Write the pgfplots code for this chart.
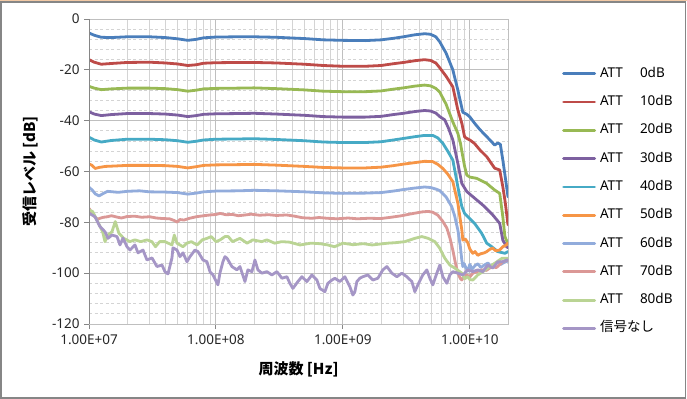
\documentclass[border=0pt]{standalone}
\usepackage{pgfplots}
\pgfplotsset{compat=1.18}
\usepackage{fontspec}
\setmainfont{Noto Sans}
\newfontfamily\jp{Noto Sans CJK JP}
\definecolor{cA}{HTML}{4A7EBB}
\definecolor{cB}{HTML}{BE4B48}
\definecolor{cC}{HTML}{98B954}
\definecolor{cD}{HTML}{7D60A0}
\definecolor{cE}{HTML}{46AAC5}
\definecolor{cF}{HTML}{F69546}
\definecolor{cG}{HTML}{92ACDC}
\definecolor{cH}{HTML}{DB9896}
\definecolor{cI}{HTML}{BAD494}
\definecolor{cJ}{HTML}{A596C6}
\definecolor{gmajor}{HTML}{BFBFBF}
\definecolor{gminor}{HTML}{D4D4D4}
\definecolor{gaxis}{HTML}{868686}
\definecolor{peach}{HTML}{F2C9A5}
\newcommand{\att}[1]{\makebox[40bp][l]{ATT}#1}
\begin{document}
\begin{tikzpicture}
\useasboundingbox (0bp,0bp) rectangle (687bp,399bp);
\fill[white] (0bp,0bp) rectangle (687bp,399bp);
\draw[gaxis, line width=1.3bp] (1bp,1bp) rectangle (685.5bp,397bp);
\draw[peach, line width=1.2bp] (0bp,398.4bp) -- (687bp,398.4bp);
\begin{axis}[
  at={(89bp,75bp)}, anchor=south west,
  scale only axis, width=419bp, height=305bp,
  xmode=log, xmin=1e7, xmax=2e10, ymin=-120, ymax=0,
  xtick={1e7,1e8,1e9,1e10},
  xticklabels={1.00E+07,1.00E+08,1.00E+09,1.00E+10},
  ytick={-120,-100,-80,-60,-40,-20,0},
  yticklabels={-120,-100,-80,-60,-40,-20,0},
  minor y tick num=4,
  grid=both,
  major grid style={draw=gmajor, line width=0.9bp},
  minor x grid style={draw=gminor, line width=0.9bp},
  minor y grid style={draw=gminor, line width=0.9bp, dash pattern=on 3bp off 2.5bp},
  axis line style={draw=gmajor, line width=0.9bp},
  tick align=outside, xtick pos=bottom, ytick pos=left,
  major tick length=5bp, minor tick length=0pt,
  tick style={draw=gaxis, line width=0.9bp},
  tick label style={font=\fontsize{13.5bp}{16bp}\selectfont, text=black!85},
  xticklabel style={yshift=-2bp},
  yticklabel style={xshift=-1bp},
  xlabel={周波数 [Hz]}, ylabel={受信レベル [dB]},
  label style={font=\jp\bfseries\fontsize{15bp}{18bp}\selectfont},
  xlabel style={at={(axis description cs:0.5,-0.1475)}, anchor=center},
  ylabel style={at={(axis description cs:-0.1396,0.5)}, anchor=center},
  legend style={at={(axis description cs:1.1289,0.8407)}, anchor=north west,
    draw=none, fill=none, inner sep=0pt, row sep=16.3bp, column sep=4bp,
    font=\fontsize{13.5bp}{16bp}\selectfont,
    nodes={inner sep=0pt, text height=9.5bp, text depth=2.5bp}},
  legend cell align=left,
  legend image code/.code={\draw[#1] (0bp,0bp) -- (31bp,0bp);},
  every axis plot/.append style={line width=2.8bp, line join=round, line cap=round, mark=none},
  clip=true,
]
\addplot[cA] coordinates {(1e7,-5.5) (1.1e7,-6.4) (1.25e7,-7.2) (1.5e7,-7.3) (2e7,-7.0) (3e7,-7.0) (4e7,-7.3) (5e7,-7.8) (6e7,-8.4) (7e7,-8.0) (8e7,-7.4) (1e8,-7.1) (1.5e8,-7.0) (2e8,-7.0) (3e8,-7.2) (5e8,-7.7) (7e8,-8.2) (1e9,-8.4) (1.5e9,-8.5) (2e9,-8.2) (2.5e9,-7.6) (3e9,-7.0) (3.7e9,-6.2) (4.4e9,-5.8) (4.9e9,-6.0) (5.4e9,-7.0) (5.8e9,-9.0) (6.5e9,-13.4) (7.35e9,-20.0) (8.05e9,-28) (8.81e9,-36.7) (9.47e9,-37.5) (1e10,-38.5) (1.09e10,-41) (1.2e10,-43.5) (1.36e10,-46.3) (1.57e10,-49.6) (1.66e10,-48.8) (1.74e10,-49.3) (1.82e10,-55.5) (1.9e10,-62) (2e10,-70)};
\addlegendentry{\att{0dB}}
\addplot[cB] coordinates {(1e7,-16.0) (1.1e7,-17.0) (1.25e7,-17.8) (1.5e7,-17.5) (2e7,-17.1) (3e7,-17.0) (4e7,-17.3) (5e7,-17.7) (6e7,-18.3) (7e7,-18.0) (8e7,-17.4) (1e8,-17.2) (1.5e8,-17.1) (2e8,-17.1) (3e8,-17.3) (5e8,-17.8) (7e8,-18.3) (1e9,-18.6) (1.5e9,-18.6) (2e9,-18.3) (2.5e9,-17.6) (3e9,-17.1) (3.7e9,-16.4) (4.4e9,-16.0) (4.9e9,-16.3) (5.4e9,-17.3) (5.8e9,-19.2) (6.5e9,-22.5) (7.35e9,-26.7) (8.05e9,-35.8) (8.65e9,-41) (9.1e9,-46.4) (9.47e9,-47) (1e10,-47.6) (1.09e10,-49) (1.2e10,-51.5) (1.36e10,-54.2) (1.57e10,-58.7) (1.72e10,-59.4) (1.82e10,-66) (1.9e10,-72) (2e10,-81)};
\addlegendentry{\att{10dB}}
\addplot[cC] coordinates {(1e7,-26.5) (1.1e7,-27.2) (1.25e7,-27.8) (1.5e7,-27.5) (2e7,-27.2) (3e7,-27.2) (4e7,-27.4) (5e7,-27.8) (6e7,-28.4) (7e7,-28.0) (8e7,-27.5) (1e8,-27.3) (1.5e8,-27.2) (2e8,-27.1) (3e8,-27.4) (5e8,-27.9) (7e8,-28.4) (1e9,-28.6) (1.5e9,-28.6) (2e9,-28.3) (2.5e9,-27.6) (3e9,-27.1) (3.7e9,-26.4) (4.4e9,-26.0) (4.9e9,-26.3) (5.4e9,-27.3) (5.8e9,-28.8) (6.5e9,-33.5) (7.35e9,-40.5) (8.05e9,-45) (8.45e9,-49) (8.65e9,-52) (9.1e9,-58) (9.47e9,-61.4) (1.0e10,-62.2) (1.135e10,-62.7) (1.36e10,-64.7) (1.57e10,-67.3) (1.72e10,-68.6) (1.82e10,-77.8) (1.89e10,-85.6) (2e10,-88.5)};
\addlegendentry{\att{20dB}}
\addplot[cD] coordinates {(1e7,-36.5) (1.1e7,-37.4) (1.25e7,-38.0) (1.5e7,-37.6) (2e7,-37.2) (3e7,-37.2) (4e7,-37.4) (5e7,-37.8) (6e7,-38.4) (7e7,-38.0) (8e7,-37.5) (1e8,-37.3) (1.5e8,-37.2) (2e8,-37.1) (3e8,-37.4) (5e8,-37.9) (7e8,-38.4) (1e9,-38.6) (1.5e9,-38.6) (2e9,-38.3) (2.5e9,-37.6) (3e9,-37.1) (3.7e9,-36.4) (4.4e9,-36.0) (4.9e9,-36.2) (5.4e9,-37.0) (5.8e9,-38.4) (6.35e9,-39.7) (6.8e9,-43) (7.35e9,-47.6) (8.05e9,-56.8) (8.65e9,-64.7) (9.47e9,-67.9) (1.056e10,-69.9) (1.266e10,-73.2) (1.517e10,-77.1) (1.72e10,-80.4) (1.82e10,-87) (1.95e10,-89.6) (2e10,-90)};
\addlegendentry{\att{30dB}}
\addplot[cE] coordinates {(1e7,-46.5) (1.1e7,-47.6) (1.25e7,-48.4) (1.5e7,-47.8) (2e7,-47.3) (3e7,-47.3) (4e7,-47.5) (5e7,-47.9) (6e7,-48.5) (7e7,-48.1) (8e7,-47.6) (1e8,-47.3) (1.5e8,-47.2) (2e8,-47.1) (3e8,-47.4) (5e8,-47.9) (7e8,-48.4) (1e9,-48.6) (1.5e9,-48.6) (2e9,-48.3) (2.5e9,-47.6) (3e9,-47.0) (3.7e9,-46.3) (4.4e9,-45.8) (5.1e9,-45.8) (5.6e9,-46.8) (6.13e9,-48.9) (6.7e9,-52) (7.35e9,-55.5) (8.05e9,-66) (8.65e9,-73.8) (9.1e9,-76.5) (9.64e9,-77.8) (1.09e10,-80.4) (1.24e10,-84.3) (1.36e10,-88.2) (1.49e10,-89.6) (1.66e10,-91.5) (1.89e10,-92.2) (2e10,-91.5)};
\addlegendentry{\att{40dB}}
\addplot[cF] coordinates {(1e7,-57.0) (1.05e7,-57.5) (1.12e7,-58.8) (1.2e7,-58.4) (1.35e7,-58.0) (1.5e7,-57.9) (2e7,-57.6) (3e7,-57.6) (4e7,-57.7) (5e7,-58.0) (6e7,-58.6) (7e7,-58.1) (8e7,-57.6) (1e8,-57.4) (1.5e8,-57.3) (2e8,-57.2) (3e8,-57.5) (5e8,-58.0) (7e8,-58.4) (1e9,-58.6) (1.5e9,-58.6) (2e9,-58.3) (2.5e9,-57.7) (3e9,-57.1) (3.7e9,-56.5) (4.4e9,-56.0) (5.1e9,-56.1) (5.6e9,-57.2) (6.13e9,-58.8) (6.7e9,-61) (7.35e9,-64) (8.05e9,-72.5) (8.65e9,-83) (8.81e9,-87) (9.2e9,-86.5) (9.64e9,-88) (1.0e10,-90.5) (1.056e10,-92.2) (1.1e10,-91.5) (1.156e10,-93) (1.2e10,-92.5) (1.3e10,-92) (1.36e10,-91.5) (1.45e10,-90.5) (1.517e10,-90.2) (1.6e10,-91.2) (1.72e10,-90.9) (1.82e10,-89.6) (1.9e10,-89.2) (2e10,-88.2)};
\addlegendentry{\att{50dB}}
\addplot[cG] coordinates {(1e7,-66.2) (1.06e7,-67.3) (1.12e7,-68.8) (1.2e7,-69.6) (1.3e7,-68.6) (1.4e7,-67.8) (1.7e7,-68.2) (2e7,-67.8) (2.5e7,-67.6) (3e7,-68.0) (4e7,-68.1) (5e7,-68.3) (6e7,-68.9) (7e7,-68.5) (8e7,-68.0) (1e8,-67.7) (1.5e8,-67.6) (2e8,-67.4) (3e8,-67.6) (5e8,-68.0) (7e8,-68.4) (1e9,-68.6) (1.5e9,-68.5) (2e9,-68.3) (2.5e9,-67.7) (3e9,-67.1) (3.7e9,-66.5) (4.4e9,-66.1) (4.9e9,-66.3) (5.4e9,-66.9) (5.8e9,-67.5) (6.5e9,-70) (7.2e9,-73.8) (7.6e9,-77.5) (8.05e9,-83) (8.4e9,-89) (8.65e9,-94.8) (8.81e9,-97.4) (9.0e9,-96.2) (9.3e9,-97.8) (9.64e9,-99.2) (1.0e10,-96.5) (1.04e10,-98.5) (1.1e10,-97.0) (1.16e10,-96.3) (1.22e10,-97.8) (1.3e10,-96.8) (1.39e10,-96.0) (1.46e10,-97.2) (1.55e10,-96.5) (1.66e10,-95.6) (1.75e10,-96.6) (1.86e10,-95.8) (2e10,-95.2)};
\addlegendentry{\att{60dB}}
\addplot[cH] coordinates {(1.0e7,-74.5) (1.05e7,-76.2) (1.11e7,-77.8) (1.17e7,-78.8) (1.22e7,-78.4) (1.3e7,-78.0) (1.4e7,-77.8) (1.5e7,-77.4) (1.65e7,-77.9) (1.8e7,-78.3) (2e7,-77.7) (2.3e7,-77.6) (2.6e7,-78.0) (3e7,-77.8) (3.4e7,-78.3) (3.8e7,-78.5) (4.3e7,-78.6) (4.7e7,-79.3) (4.93e7,-79.9) (5.2e7,-78.9) (5.6e7,-79.1) (6.2e7,-78.4) (7e7,-77.8) (8e7,-77.4) (9e7,-77.1) (1e8,-76.9) (1.08e8,-76.5) (1.2e8,-77.0) (1.35e8,-76.9) (1.5e8,-77.4) (1.7e8,-77.1) (1.9e8,-76.8) (2.2e8,-77.2) (2.6e8,-77.0) (3e8,-77.3) (3.6e8,-77.1) (4.2e8,-77.6) (4.8e8,-78.2) (5.7e8,-78.4) (6.5e8,-78.1) (7.5e8,-78.4) (9e8,-78.6) (1.1e9,-78.3) (1.3e9,-78.6) (1.6e9,-78.4) (2e9,-78.5) (2.4e9,-78.0) (2.9e9,-77.4) (3.5e9,-76.6) (4.2e9,-75.9) (4.7e9,-75.7) (5.1e9,-76.0) (5.6e9,-77.2) (6.1e9,-79.5) (6.6e9,-82.3) (7.0e9,-86.5) (7.35e9,-91) (7.7e9,-96) (8.05e9,-100) (8.4e9,-102) (8.65e9,-102.7) (9.0e9,-101.2) (9.47e9,-100.7) (1.0e10,-101.5) (1.056e10,-100) (1.13e10,-99.5) (1.24e10,-98.7) (1.35e10,-98.9) (1.49e10,-97.4) (1.62e10,-97.8) (1.82e10,-95.5) (2e10,-94.8)};
\addlegendentry{\att{70dB}}
\addplot[cI] coordinates {(1.0e7,-75.1) (1.07e7,-75.8) (1.17e7,-79.7) (1.28e7,-83.7) (1.336e7,-87.6) (1.411e7,-85) (1.517e7,-83.7) (1.61e7,-79.7) (1.72e7,-84.3) (1.88e7,-86.3) (2.1e7,-87.6) (2.3e7,-86.9) (2.56e7,-87.6) (2.86e7,-86.9) (3.13e7,-87.6) (3.34e7,-89.6) (3.6e7,-87.6) (3.97e7,-87.6) (4.5e7,-88.9) (4.7e7,-85) (4.93e7,-88.2) (5.5e7,-89.6) (5.9e7,-88.2) (6.4e7,-87.6) (7.1e7,-88.9) (7.8e7,-86.9) (8.5e7,-86.3) (9.2e7,-85.6) (1.0e8,-87.6) (1.08e8,-86.9) (1.177e8,-85.6) (1.25e8,-85.6) (1.35e8,-87.6) (1.545e8,-86.3) (1.76e8,-88.2) (1.95e8,-86.9) (2.3e8,-87.6) (2.52e8,-86.9) (2.9e8,-88.2) (3.3e8,-87.6) (3.8e8,-87.8) (4.6e8,-88.9) (5.6e8,-88.2) (6.6e8,-88.4) (7.6e8,-88.9) (8.6e8,-89.6) (1.0e9,-88.2) (1.2e9,-88.8) (1.45e9,-88.4) (1.7e9,-88.9) (2.0e9,-88.5) (2.26e9,-88.2) (2.6e9,-88.0) (3.08e9,-87.6) (3.69e9,-86.3) (4.19e9,-85.6) (4.7e9,-86.3) (5.3e9,-87.6) (5.8e9,-90.2) (6.35e9,-94.1) (6.96e9,-96.8) (7.62e9,-98) (8.65e9,-100) (9.1e9,-102.2) (9.64e9,-101.4) (1.0e10,-102.5) (1.056e10,-102.7) (1.156e10,-100.7) (1.266e10,-99.4) (1.386e10,-98) (1.57e10,-96.1) (1.8e10,-94.1) (2e10,-94.1)};
\addlegendentry{\att{80dB}}
\addplot[cJ] coordinates {(1.0e7,-76.4) (1.115e7,-77.8) (1.221e7,-81.7) (1.336e7,-83.7) (1.411e7,-86.3) (1.517e7,-85) (1.662e7,-85.6) (1.754e7,-88.9) (1.852e7,-86.2) (1.992e7,-89.6) (2.103e7,-90.9) (2.302e7,-88.9) (2.431e7,-92) (2.662e7,-90.9) (2.862e7,-94.8) (3.134e7,-94) (3.431e7,-97.4) (3.757e7,-96.8) (3.966e7,-99.4) (4.188e7,-100.3) (4.503e7,-94) (4.586e7,-90) (4.931e7,-90.9) (5.206e7,-93.5) (5.498e7,-92) (5.911e7,-95.5) (6.242e7,-93.5) (6.833e7,-90.9) (7.215e7,-91.5) (7.9e7,-94.8) (8.494e7,-95.5) (8.971e7,-99.4) (9.471e7,-100.7) (1.037e8,-104.6) (1.075e8,-100) (1.135e8,-95.5) (1.177e8,-93.5) (1.221e8,-94.1) (1.336e8,-97.4) (1.463e8,-98.7) (1.545e8,-97.4) (1.692e8,-103.3) (1.786e8,-98.7) (1.921e8,-99.4) (2.028e8,-94.8) (2.141e8,-98.7) (2.302e8,-100) (2.521e8,-99.4) (2.76e8,-100.7) (3.022e8,-99.4) (3.309e8,-102) (3.623e8,-101.4) (3.825e8,-104) (4.039e8,-106) (4.422e8,-103.3) (4.755e8,-101.4) (5.206e8,-103.3) (5.7e8,-100.7) (6.242e8,-102.7) (6.59e8,-106) (7.216e8,-107.3) (7.619e8,-104) (8.193e8,-102.7) (8.65e8,-102) (9.471e8,-103.3) (1.037e9,-101.4) (1.135e9,-105.3) (1.199e9,-108.6) (1.243e9,-107.3) (1.289e9,-103.3) (1.361e9,-102) (1.437e9,-101.4) (1.573e9,-100.7) (1.723e9,-102.7) (1.886e9,-102) (2.065e9,-98.7) (2.221e9,-97.4) (2.431e9,-100) (2.662e9,-101.4) (2.915e9,-100) (3.191e9,-101.4) (3.494e9,-103.3) (3.689e9,-107.3) (3.896e9,-104.6) (4.265e9,-100.7) (4.586e9,-98.7) (4.842e9,-102) (5.113e9,-104.6) (5.498e9,-100) (5.806e9,-96.8) (6.13e9,-101.4) (6.59e9,-104) (6.959e9,-100.7) (7.348e9,-99.4) (8.045e9,-100) (8.81e9,-100.7) (9.645e9,-98.7) (1.056e10,-99.4) (1.156e10,-98.7) (1.266e10,-99.4) (1.386e10,-96.8) (1.517e10,-98) (1.662e10,-95.5) (1.819e10,-95.5) (1.955e10,-94.8) (2e10,-95)};
\addlegendentry{{\jp 信号なし}}
\draw[gaxis, line width=0.9bp] (rel axis cs:0,0) -- (rel axis cs:0,1);
\draw[gaxis, line width=0.9bp] (rel axis cs:0,0) -- (rel axis cs:1,0);
\end{axis}
\end{tikzpicture}
\end{document}
